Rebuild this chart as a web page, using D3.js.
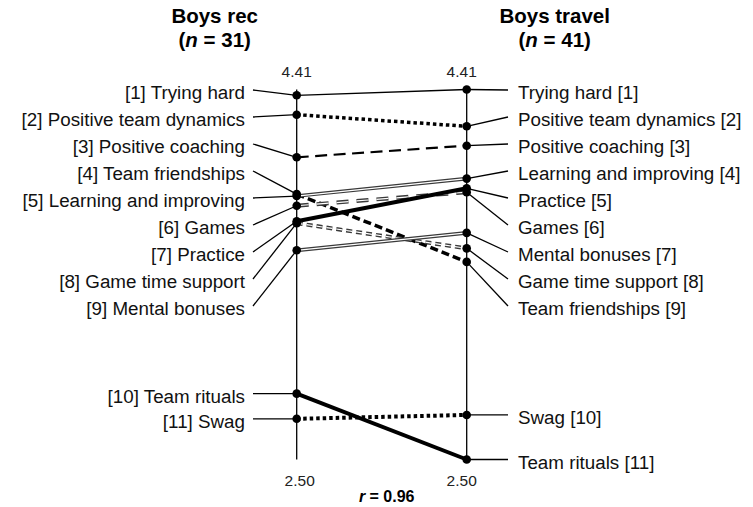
<!DOCTYPE html>
<html>
<head>
<meta charset="utf-8">
<script src="https://cdn.jsdelivr.net/npm/d3@7"></script>
<style>
body { margin: 0; background: #fff; }
text { font-family: "Liberation Sans", Arial, sans-serif; fill: #000; }
</style>
</head>
<body>
<div id="chart"></div>
<script>
// themes and mean ratings
var themes = ['Trying hard', 'Positive team dynamics', 'Positive coaching', 'Team friendships',
	'Learning and improving', 'Games', 'Practice', 'Game time support', 'Mental bonuses',
	'Team rituals', 'Swag'];
var recValues = [4.38, 4.28, 4.06, 3.87, 3.86, 3.81, 3.73, 3.72, 3.58, 2.84, 2.71];
var travelValues = [4.41, 4.22, 4.12, 3.52, 3.95, 3.88, 3.90, 3.59, 3.67, 2.50, 2.73];
var groups = ['Boys rec', 'Boys travel'];
var groupN = [31, 41];
var axisTicks = [4.41, 2.50];
var rValue = 0.96;

var lineStyles = {
	'Trying hard': { w: 1.3, dash: null },
	'Positive team dynamics': { w: 3.5, dash: '3.5,3' },
	'Positive coaching': { w: 2.2, dash: '12,6.5' },
	'Team friendships': { w: 3.5, dash: '8,4' },
	'Learning and improving': { w: 3.6, dash: null, dbl: true },
	'Games': { w: 4, dash: '12,8', dbl: true },
	'Practice': { w: 4, dash: null },
	'Game time support': { w: 4, dash: '6,4', dbl: true },
	'Mental bonuses': { w: 3.8, dash: null, dbl: true },
	'Team rituals': { w: 4, dash: null },
	'Swag': { w: 4, dash: '3.5,3' }
};

var width = 753, height = 507;
var labelTop = 90, rowGap = 27;

var svg = d3.select('#chart').append('svg')
	.attr('width', width)
	.attr('height', height);

var x = d3.scalePoint().domain(groups).range([296.7, 466.7]);
var y = d3.scaleLinear().domain([2.50, 4.41]).range([459.5, 89.5]);

var rows = themes.map(function(t, i) {
	return { name: t, rec: recValues[i], travel: travelValues[i] };
});

// ranks on each side
function rankBy(key) {
	var sorted = rows.slice().sort(function(a, b) { return b[key] - a[key]; });
	sorted.forEach(function(d, i) { d[key + 'Rank'] = i + 1; });
}
rankBy('rec');
rankBy('travel');

function anchorY(d, key) {
	return d[key + 'Rank'] <= 9 ? labelTop + (d[key + 'Rank'] - 1) * rowGap : y(d[key]);
}

// titles
var titleOffset = [-82, 88];
groups.forEach(function(g, i) {
	var cx = x(g) + titleOffset[i];
	svg.append('text')
		.attr('x', cx).attr('y', 23)
		.attr('text-anchor', 'middle')
		.style('font-size', '20.5px').style('font-weight', 'bold')
		.text(g);
	var t2 = svg.append('text')
		.attr('x', cx).attr('y', 47)
		.attr('text-anchor', 'middle')
		.style('font-size', '20.5px').style('font-weight', 'bold');
	t2.append('tspan').text('(');
	t2.append('tspan').style('font-style', 'italic').text('n');
	t2.append('tspan').text(' = ' + groupN[i] + ')');
});

// axes
groups.forEach(function(g, i) {
	svg.append('line')
		.attr('x1', x(g)).attr('x2', x(g))
		.attr('y1', y(axisTicks[0])).attr('y2', y(axisTicks[1]))
		.attr('stroke', '#000').attr('stroke-width', 1.3);
	var dx = i === 0 ? 0 : -5;
	svg.append('text')
		.attr('x', x(g) + dx).attr('y', y(axisTicks[0]) - 13)
		.attr('text-anchor', 'middle')
		.style('font-size', '15.5px').style('fill', '#222')
		.text(d3.format('.2f')(axisTicks[0]));
	svg.append('text')
		.attr('x', x(g) + (i === 0 ? 3 : -5)).attr('y', y(axisTicks[1]) + 26)
		.attr('text-anchor', 'middle')
		.style('font-size', '15.5px').style('fill', '#222')
		.text(d3.format('.2f')(axisTicks[1]));
});

var rText = svg.append('text')
	.attr('x', (x(groups[0]) + x(groups[1])) / 2 + 5).attr('y', 502)
	.attr('text-anchor', 'middle')
	.style('font-size', '16px').style('font-weight', 'bold');
rText.append('tspan').style('font-style', 'italic').text('r');
rText.append('tspan').text(' = ' + d3.format('.2f')(rValue));

// slope lines
var slopes = svg.append('g');
rows.forEach(function(d) {
	var s = lineStyles[d.name];
	var l = slopes.append('line')
		.attr('x1', x(groups[0])).attr('y1', y(d.rec))
		.attr('x2', x(groups[1])).attr('y2', y(d.travel))
		.attr('stroke', s.dbl ? '#3a3a3a' : '#000')
		.attr('stroke-width', s.w);
	if (s.dash) l.attr('stroke-dasharray', s.dash);
	if (s.dbl) {
		var inner = slopes.append('line')
			.attr('x1', x(groups[0])).attr('y1', y(d.rec))
			.attr('x2', x(groups[1])).attr('y2', y(d.travel))
			.attr('stroke', '#fff')
			.attr('stroke-width', 1.2);
		if (s.dash) inner.attr('stroke-dasharray', s.dash);
	}
});

// leader lines and labels
var left = svg.append('g'), right = svg.append('g');
rows.forEach(function(d) {
	var ay = anchorY(d, 'rec');
	left.append('line')
		.attr('x1', 253).attr('y1', ay)
		.attr('x2', x(groups[0])).attr('y2', y(d.rec))
		.attr('stroke', '#000').attr('stroke-width', 1.3);
	left.append('text')
		.attr('x', 245).attr('y', ay + 9)
		.attr('text-anchor', 'end')
		.style('font-size', '18.8px').style('fill', '#111')
		.text('[' + d.recRank + '] ' + d.name);

	var by = anchorY(d, 'travel');
	right.append('line')
		.attr('x1', x(groups[1])).attr('y1', y(d.travel))
		.attr('x2', 508).attr('y2', by)
		.attr('stroke', '#000').attr('stroke-width', 1.3);
	right.append('text')
		.attr('x', 518).attr('y', by + 9)
		.style('font-size', '18.8px').style('fill', '#111')
		.text(d.name + ' [' + d.travelRank + ']');
});

// end points
var dots = svg.append('g');
rows.forEach(function(d) {
	dots.append('circle').attr('cx', x(groups[0])).attr('cy', y(d.rec)).attr('r', 4.3).attr('fill', '#000');
	dots.append('circle').attr('cx', x(groups[1])).attr('cy', y(d.travel)).attr('r', 4.3).attr('fill', '#000');
});
</script>
</body>
</html>
